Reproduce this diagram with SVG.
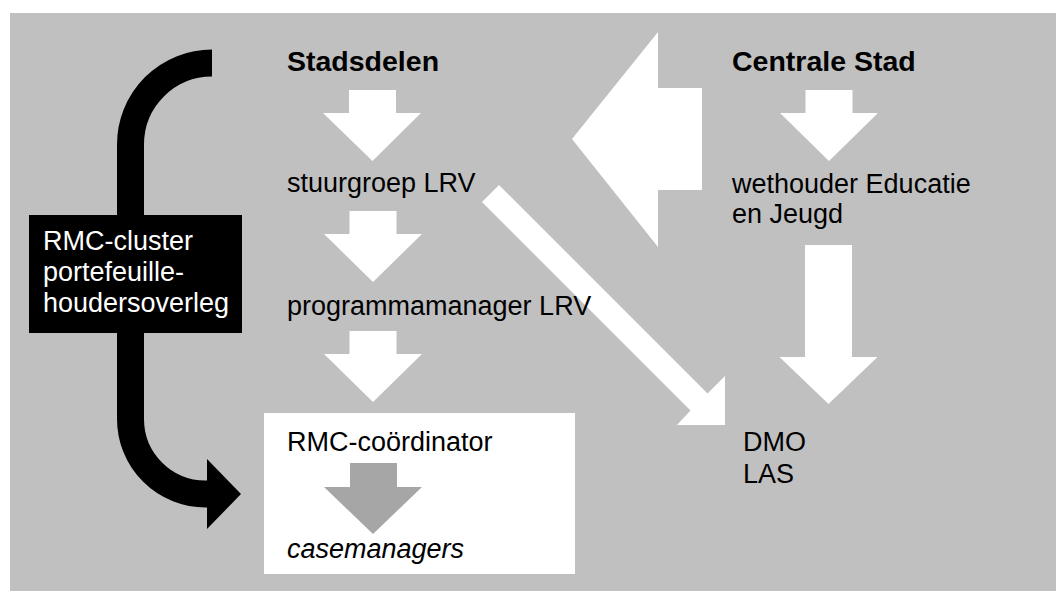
<svg xmlns="http://www.w3.org/2000/svg" width="1056" height="591" viewBox="0 0 1056 591">
  <style>
    .t { font-family: "Liberation Sans", Arial, sans-serif; font-size: 27px; fill: #000; }
    .h { font-family: "Liberation Sans", Arial, sans-serif; font-size: 28.5px; font-weight: bold; fill: #000; }
    .w { fill: #fff; }
    .wt { font-family: "Liberation Sans", Arial, sans-serif; font-size: 27px; fill: #fff; }
  </style>
  <rect x="0" y="0" width="1056" height="591" fill="#fff"/>
  <rect x="10" y="13" width="1046" height="578" fill="#c0c0c0"/>

  <g id="connectors">
    <!-- big left-pointing arrow -->
    <polygon class="w" points="572,139 658,32 658,88 702,88 702,190 658,190 658,247"/>
    <!-- down arrows -->
    <polygon class="w" points="349,90 396,90 396,113 421,113 372.5,161 323,113 349,113"/>
    <polygon class="w" points="349.5,211 396.5,211 396.5,234 422,234 373,282 324,234 349.5,234"/>
    <polygon class="w" points="349.5,331 396.5,331 396.5,354 422,354 373,402 324,354 349.5,354"/>
    <polygon class="w" points="805.5,90 852.5,90 852.5,113 878,113 829,161 780,113 805.5,113"/>
    <polygon class="w" points="805,245 852,245 852,357 877.5,357 828.5,404 779.5,357 805,357"/>
    <!-- diagonal arrow -->
    <polygon class="w" points="482,202 499,185 707.5,393.5 725,376 725,425 677,425 690.5,410.5"/>
    <!-- black curved arrow -->
    <path d="M212,63 A81.5,81.5 0 0 0 130.5,144.5 L130.5,419 A75,75 0 0 0 205.5,494 L208,494" fill="none" stroke="#000" stroke-width="27"/>
    <polygon points="207,459 241,494 207,529" fill="#000"/>
  </g>

  <g id="stadsdelen">
    <text class="h" x="287" y="71">Stadsdelen</text>
  </g>
  <g id="centrale-stad">
    <text class="h" x="732" y="71">Centrale Stad</text>
  </g>
  <g id="stuurgroep">
    <text class="t" x="287" y="192">stuurgroep LRV</text>
  </g>
  <g id="programmamanager">
    <text class="t" x="287" y="315">programmamanager LRV</text>
  </g>
  <g id="wethouder">
    <text class="t" x="732" y="193">wethouder Educatie</text>
    <text class="t" x="732" y="223">en Jeugd</text>
  </g>
  <g id="dmo-las">
    <text class="t" x="743" y="451">DMO</text>
    <text class="t" x="743" y="483">LAS</text>
  </g>
  <g id="rmc-cluster">
    <rect x="29" y="215" width="213" height="118" fill="#000"/>
    <text class="wt" x="43" y="250">RMC-cluster</text>
    <text class="wt" x="43" y="281">portefeuille-</text>
    <text class="wt" x="43" y="312">houdersoverleg</text>
  </g>
  <g id="rmc-coordinator">
    <rect x="264" y="413" width="311" height="161" fill="#fff"/>
    <text class="t" x="287" y="451">RMC-coördinator</text>
    <polygon points="350,463 397,463 397,487 422,487 373,534 324,487 350,487" fill="#a6a6a6"/>
    <text class="t" x="287" y="558" font-style="italic">casemanagers</text>
  </g>
</svg>
